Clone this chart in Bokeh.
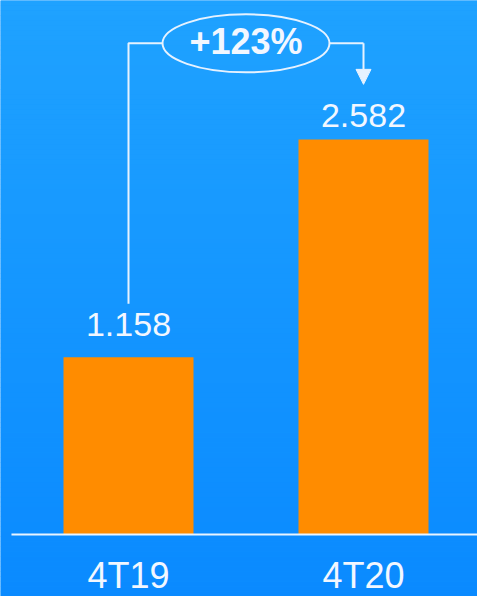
from bokeh.plotting import figure
from bokeh.models import Range1d, Arrow, NormalHead
from bokeh.core.properties import value
from bokeh.embed import file_html
from bokeh.resources import INLINE

# Data
categories = ["4T19", "4T20"]
values = [1.158, 2.582]
value_labels = ["1.158", "2.582"]
growth_label = "+123%"

W, H = 477, 596
xs = list(range(len(categories)))

p = figure(width=W, height=H, output_backend="svg", toolbar_location=None,
           x_range=Range1d(-128 / 235, 349 / 235),
           y_range=Range1d(-62 / 153, 534 / 153),
           min_border=0)
p.axis.visible = False
p.grid.visible = False
p.outline_line_color = None
p.border_fill_color = "#1496ff"
p.background_fill_color = "#1496ff"

# vertical blue gradient background made of thin strips
n = 120
y0, y1 = p.y_range.start, p.y_range.end
top_c = (0x1f, 0xa2, 0xff)
bot_c = (0x0a, 0x8a, 0xff)
bottoms, tops, cols = [], [], []
for i in range(n):
    t = i / (n - 1)
    b = y0 + (y1 - y0) * i / n
    bottoms.append(b)
    tops.append(b + (y1 - y0) / n + 0.002)
    c = tuple(round(bot_c[k] + (top_c[k] - bot_c[k]) * t) for k in range(3))
    cols.append("#%02x%02x%02x" % c)
p.quad(left=p.x_range.start, right=p.x_range.end, bottom=bottoms, top=tops,
       fill_color=cols, line_color=None)

# bars
p.vbar(x=xs, top=values, bottom=0, width=130 / 235,
       fill_color="#ff8c00", line_color=None)

# baseline
p.segment(x0=[-0.498], y0=[0], x1=[p.x_range.end], y1=[0],
          line_color="#e8f4ff", line_width=2)

txt = "#f2f7ff"
font = value("Liberation Sans")

# value labels above the bars
p.text(x=xs, y=values, text=value_labels, y_offset=[-33, -24],
       text_align="center", text_baseline="alphabetic",
       text_font=font, text_font_size="34px", text_color=txt)

# category labels under the baseline
p.text(x=xs, y=[-0.386] * len(xs), text=categories, y_offset=-18,
       text_align="center", text_baseline="alphabetic",
       text_font=font, text_font_size="36px", text_color=txt)

# growth bracket
bracket_y = 3.21
line_c = "#e6f2ff"
left_x, right_x = xs[0], xs[1]
mid_x = (left_x + right_x) / 2
ell_w, ell_h = 167 / 235, 58 / 153
p.line(x=[left_x, left_x, mid_x - ell_w / 2], y=[values[0] + 0.35, bracket_y, bracket_y],
       line_color=line_c, line_width=2)
p.line(x=[mid_x + ell_w / 2, right_x], y=[bracket_y, bracket_y],
       line_color=line_c, line_width=2)
p.add_layout(Arrow(x_start=right_x, y_start=bracket_y, x_end=right_x, y_end=values[1] + 0.36,
                   line_color=line_c, line_width=2,
                   end=NormalHead(size=15, fill_color=line_c, line_color=line_c, line_width=1)))
p.ellipse(x=[mid_x], y=[bracket_y], width=[ell_w], height=[ell_h],
          fill_color=None, line_color=line_c, line_width=2)
p.text(x=[mid_x], y=[bracket_y], text=[growth_label], y_offset=[-2],
       text_align="center", text_baseline="middle",
       text_font=font, text_font_size="36px", text_font_style="bold", text_color=txt)

open("out.html", "w").write(file_html(p, INLINE))
